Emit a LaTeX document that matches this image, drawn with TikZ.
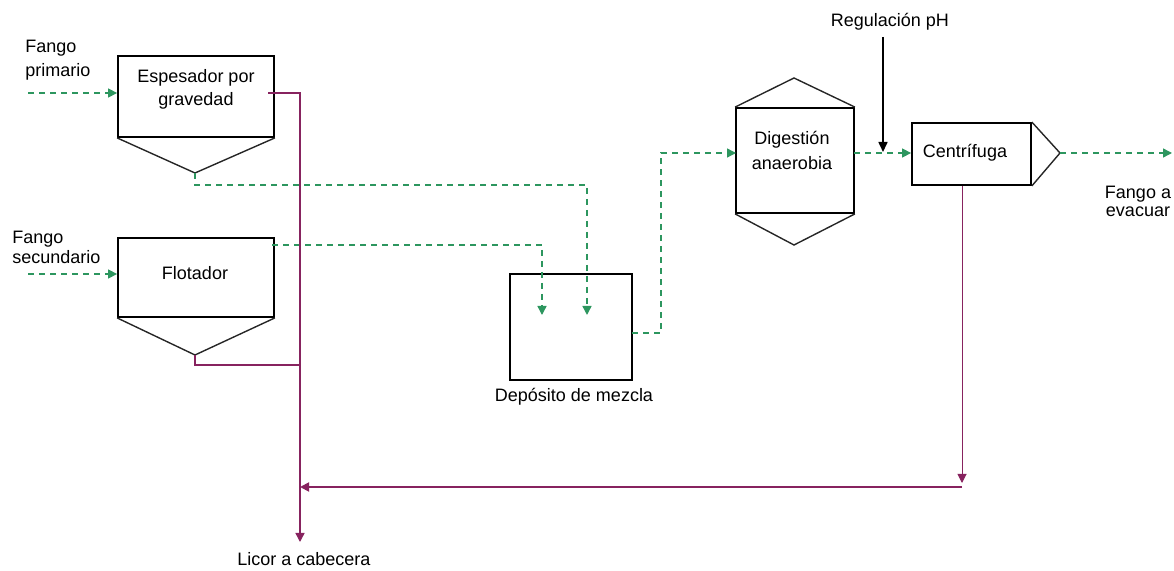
\documentclass[tikz,border=0pt]{standalone}
\usepackage{fontspec}
\setsansfont{Liberation Sans}
\usetikzlibrary{arrows.meta}

\begin{document}
\begin{tikzpicture}[x=0.5pt, y=-0.5pt, font=\sffamily\fontsize{9}{12}\selectfont,
	unitbox/.style={draw, line width=0.9pt, inner sep=0pt},
	unittext/.style={align=center, inner sep=0pt},
	cone/.style={draw=black!85, line width=0.7pt},
	sludge/.style={draw=sludgeGreen, line width=0.7pt, dash pattern=on 3pt off 2.5pt, -{Triangle[length=4.5pt,width=4.5pt]}},
	liquor/.style={draw=liquorPurple, line width=0.7pt}]
		
		% Define colors
		
		\definecolor{sludgeGreen}{RGB}{45,150,95}
		
		\definecolor{liquorPurple}{RGB}{135,35,95}
		
		\useasboundingbox (0,0) rectangle (1174,571);
		
		% Units of the line
		
		\node[unitbox, minimum width=78pt, minimum height=40.5pt] (esp) at (196,96.5) {};
		
		\node[unittext] (espText) at (196,89.5) {Espesador por\\[-0.5pt]gravedad};
		
		\draw[cone] (esp.south west) -- (195,173) coordinate (espTip) -- (esp.south east);
		
		\node[unitbox, minimum width=78pt, minimum height=39.5pt] (flo) at (196,277.5) {};
		
		\node[unittext] (floText) at (195,273) {Flotador};
		
		\draw[cone] (flo.south west) -- (195,355) coordinate (floTip) -- (flo.south east);
		
		\node[unitbox, line width=0.7pt, minimum width=61pt, minimum height=53pt] (dep) at (571,327) {};
		
		\node[unittext] (depText) at (574,397) {Depósito de mezcla};
		
		\node[unitbox, minimum width=59pt, minimum height=52.5pt] (dig) at (795,160.5) {};
		
		\node[unittext] (digText) at (792,150.5) {Digestión\\[0.5pt]anaerobia};
		
		\draw[cone] (dig.north west) -- (794,78) -- (dig.north east);
		
		\draw[cone] (dig.south west) -- (794,245) -- (dig.south east);
		
		\node[unitbox, minimum width=59.5pt, minimum height=31pt] (cen) at (971.5,154) {};
		
		\node[unittext] (cenText) at (965,153) {Centrífuga};
		
		\draw[cone] (cen.north east) -- (1060,153) coordinate (cenTip) -- (cen.south east);
		
		% Inputs and outputs
		
		\node[unittext, align=left, anchor=west] (fp) at (25,60) {Fango\\primario};
		
		\node[unittext, align=left, anchor=west] (fs) at (12,247) {Fango\\[-2pt]secundario};
		
		\node[unittext] (fe) at (1138,201) {Fango a\\[-3pt]evacuar};
		
		\node[unittext] (ph) at (890,22) {Regulación pH};
		
		\node[unittext] (lc) at (304,559) {Licor a cabecera};
		
		% Sludge line (green)
		
		\coordinate (fpIn) at (28,93);
		
		\coordinate (fsIn) at (28,274);
		
		\coordinate (floOut) at (272,245);
		
		\coordinate (depInA) at (587,315);
		
		\coordinate (depInB) at (542,315);
		
		\coordinate (depOut) at (632,333);
		
		\coordinate (digIn) at (736,153);
		
		\coordinate (digOut) at (854,153);
		
		\coordinate (feOut) at (1172,153);
		
		\draw[sludge] (fpIn) -- (fpIn -| esp.west);
		
		\draw[sludge] (fsIn) -- (fsIn -| flo.west);
		
		\draw[sludge] (espTip) -- ++(0,12) -| (depInA);
		
		\draw[sludge] (floOut) -| (depInB);
		
		\draw[sludge] (depOut) -- ++(29,0) |- (digIn);
		
		\draw[sludge] (digOut) -- (digOut -| cen.west);
		
		\draw[sludge] (cenTip) -- (feOut);
		
		% pH dosing
		
		\coordinate (phDose) at (883,152);
		
		\draw[line width=0.8pt, shorten <=3pt, -{Triangle[length=5pt,width=4.5pt]}] (phDose |- ph.south) -- (phDose);
		
		% Liquor line (purple)
		
		\coordinate (espOut) at (268,93);
		
		\coordinate (liqBus) at (300,93);
		
		\coordinate (floJoin) at (300,365);
		
		\coordinate (lcEnd) at (300,542);
		
		\coordinate (cenDrop) at (962,483);
		
		\coordinate (recStart) at (962,487);
		
		\draw[liquor, -{Triangle[length=4.5pt,width=4.5pt]}] (espOut) -- (liqBus) -- (lcEnd);
		
		\draw[liquor] (floTip) -- ++(0,10) -- (floJoin);
		
		\draw[liquor, line width=0.5pt, -{Triangle[length=4.5pt,width=4.5pt]}] (cen.south -| cenDrop) -- (cenDrop);
		
		\draw[liquor, line width=0.9pt, -{Triangle[length=4.5pt,width=4.5pt]}] (recStart) -- (recStart -| liqBus);
		
	\end{tikzpicture}
\end{document}
